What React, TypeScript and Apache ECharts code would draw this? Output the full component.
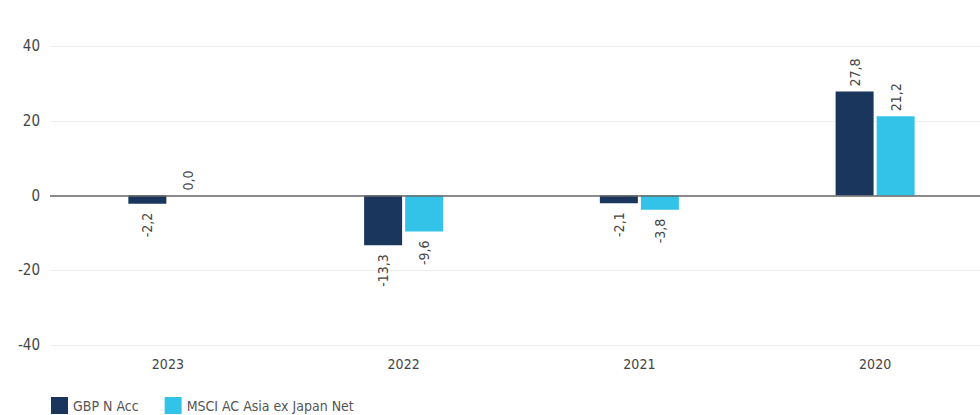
import React, { useEffect, useRef } from "react";
import * as echarts from "echarts";

const categories = ["2023", "2022", "2021", "2020"];
const fundValues = [-2.2, -13.3, -2.1, 27.8];
const indexValues = [0.0, -9.6, -3.8, 21.2];
const seriesNames = ["GBP N Acc", "MSCI AC Asia ex Japan Net"];
const colors = ["#1b365d", "#33c3e8"];

const FONT = "'Liberation Sans Narrow', 'DejaVu Sans Condensed', 'Roboto', sans-serif";

function mkData(vals: number[]) {
  return vals.map((v) => ({
    value: v,
    label: v < 0
      ? { position: "bottom", align: "right", verticalAlign: "middle", distance: 9 }
      : { position: "top", align: "left", verticalAlign: "middle", distance: 5 },
  }));
}

export default function App() {
  const ref = useRef<HTMLDivElement>(null);
  useEffect(() => {
    document.body.style.margin = "0";
    document.body.style.overflow = "hidden";
    if (!ref.current) return;
    const chart = echarts.init(ref.current, undefined, { renderer: "svg" });
    const label = {
      show: true,
      rotate: 90,
      color: "#444",
      fontSize: 14,
      fontFamily: FONT,
      formatter: (p: any) => Number(p.value).toFixed(1).replace(".", ","),
    };
    chart.setOption({
      animation: false,
      color: colors,
      grid: { left: 50, right: 0, top: 46, bottom: 70, containLabel: false },
      legend: {
        left: 51,
        top: 397,
        padding: 0,
        itemWidth: 17,
        itemHeight: 17,
        itemGap: 26,
        icon: "rect",
        textStyle: { color: "#555", fontSize: 14, fontFamily: FONT, lineHeight: 17 },
        data: seriesNames,
      },
      xAxis: {
        type: "category",
        data: categories,
        axisTick: { show: false },
        axisLine: { show: false },
        axisLabel: { color: "#444", fontSize: 14, fontFamily: FONT, margin: 12 },
      },
      yAxis: {
        type: "value",
        min: -40,
        max: 40,
        interval: 20,
        axisLine: { show: false },
        axisTick: { show: false },
        splitLine: { lineStyle: { color: "#eeeeee", width: 1 } },
        axisLabel: { color: "#444", fontSize: 15, fontFamily: FONT, margin: 10 },
      },
      series: [
        {
          name: seriesNames[0],
          type: "bar",
          data: mkData(fundValues),
          barWidth: 38,
          barGap: "8%",
          label,
          markLine: {
            silent: true,
            symbol: "none",
            label: { show: false },
            lineStyle: { color: "#666", width: 1.5, type: "solid" },
            data: [{ yAxis: 0 }],
          },
        },
        {
          name: seriesNames[1],
          type: "bar",
          data: mkData(indexValues),
          barWidth: 38,
          barGap: "8%",
          label,
        },
      ],
    });
    return () => chart.dispose();
  }, []);
  return (
    <div style={{ width: 980, height: 415, overflow: "hidden", position: "relative" }}>
      <div ref={ref} style={{ width: 993, height: 415 }} />
    </div>
  );
}
